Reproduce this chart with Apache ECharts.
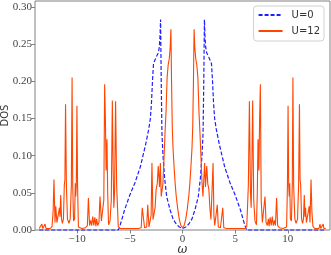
<!DOCTYPE html>
<html><head><meta charset="utf-8">
<script src="https://cdn.jsdelivr.net/npm/echarts@6/dist/echarts.min.js"></script>
<style>html,body{margin:0;padding:0;background:#fff}#c{width:331px;height:255px}</style>
</head><body><div id="c"></div>
<script>
const seriesNames = ['U=0', 'U=12'];
const xTicks = [-10, -5, 0, 5, 10];
const yTicks = [0, 0.05, 0.10, 0.15, 0.20, 0.25, 0.30];

// U=0 : [omega, DOS]
const dosU0 = [
  [-13.6, 0], [-6.1, 0], [-6.0, 0.003], [-5.8, 0.012], [-5.5, 0.027], [-5.0, 0.047], [-4.5, 0.064],
  [-4.0, 0.085], [-3.5, 0.115], [-3.2, 0.136], [-3.05, 0.150], [-2.95, 0.170], [-2.85, 0.200],
  [-2.75, 0.224], [-2.6, 0.229], [-2.45, 0.234], [-2.3, 0.238], [-2.2, 0.246], [-2.13, 0.262],
  [-2.08, 0.283], [-2.02, 0.200], [-1.95, 0.130], [-1.85, 0.100], [-1.7, 0.070], [-1.5, 0.045],
  [-1.2, 0.028], [-0.9, 0.015], [-0.6, 0.008], [-0.3, 0.004],
  [0, 0.002],
  [0.3, 0.004], [0.6, 0.008], [0.9, 0.015], [1.2, 0.028], [1.5, 0.045], [1.7, 0.070], [1.85, 0.100],
  [1.95, 0.130], [2.02, 0.200], [2.08, 0.283], [2.13, 0.262], [2.2, 0.246], [2.3, 0.238],
  [2.45, 0.234], [2.6, 0.229], [2.75, 0.224], [2.85, 0.200], [2.95, 0.170], [3.05, 0.150],
  [3.2, 0.136], [3.5, 0.115], [4.0, 0.085], [4.5, 0.064], [5.0, 0.047], [5.5, 0.027],
  [5.8, 0.012], [6.0, 0.003], [6.1, 0], [13.6, 0]
];

// U=12 : [omega, DOS]
const dosU12 = [
  [-13.60, 0.002], [-13.42, 0.002], [-13.35, 0.008], [-13.25, 0.002], [-13.12, 0.002], [-13.05, 0.008],
  [-12.95, 0.002], [-12.55, 0.002], [-12.38, 0.005], [-12.28, 0.025], [-12.20, 0.068], [-12.10, 0.010],
  [-12.03, 0.032], [-11.92, 0.010], [-11.76, 0.010], [-11.68, 0.030], [-11.62, 0.018], [-11.56, 0.047],
  [-11.48, 0.015], [-11.40, 0.009], [-11.30, 0.015], [-11.22, 0.060], [-11.16, 0.068], [-11.10, 0.169],
  [-11.02, 0.060], [-10.92, 0.015], [-10.78, 0.009], [-10.66, 0.015], [-10.55, 0.060], [-10.48, 0.205],
  [-10.42, 0.060], [-10.34, 0.012], [-10.24, 0.015], [-10.18, 0.063], [-10.13, 0.045], [-10.08, 0.060],
  [-10.02, 0.167], [-9.96, 0.060], [-9.88, 0.004], [-9.55, 0.002], [-9.20, 0.003], [-9.03, 0.006],
  [-8.93, 0.043], [-8.82, 0.006], [-8.72, 0.013], [-8.62, 0.006], [-8.52, 0.018], [-8.42, 0.006],
  [-8.32, 0.017], [-8.22, 0.005], [-8.15, 0.015], [-8.05, 0.006], [-7.93, 0.010], [-7.83, 0.045],
  [-7.70, 0.012], [-7.58, 0.010], [-7.47, 0.040], [-7.39, 0.196], [-7.32, 0.150], [-7.25, 0.080],
  [-7.17, 0.122], [-7.10, 0.050], [-7.02, 0.007], [-6.88, 0.012], [-6.76, 0.040], [-6.66, 0.174],
  [-6.58, 0.080], [-6.52, 0.030], [-6.45, 0.050], [-6.35, 0.173], [-6.25, 0.060], [-6.10, 0.005],
  [-5.90, 0.002], [-5.00, 0.002], [-4.20, 0.002], [-3.92, 0.003], [-3.82, 0.030], [-3.60, 0.003],
  [-3.40, 0.004], [-3.30, 0.034], [-3.18, 0.004], [-3.06, 0.006], [-2.98, 0.020], [-2.90, 0.090],
  [-2.80, 0.014], [-2.70, 0.014], [-2.60, 0.030], [-2.50, 0.055], [-2.40, 0.062], [-2.30, 0.086],
  [-2.18, 0.058], [-2.10, 0.090], [-2.02, 0.045], [-1.94, 0.045], [-1.86, 0.062], [-1.76, 0.095],
  [-1.66, 0.130], [-1.56, 0.160], [-1.46, 0.205], [-1.36, 0.222], [-1.26, 0.230], [-1.17, 0.245],
  [-1.10, 0.270], [-1.04, 0.200], [-0.97, 0.138], [-0.90, 0.110], [-0.80, 0.085], [-0.70, 0.063],
  [-0.60, 0.046], [-0.45, 0.028], [-0.30, 0.014], [-0.15, 0.006],
  [0.00, 0.003],
  [0.15, 0.006], [0.30, 0.014], [0.45, 0.028], [0.60, 0.046], [0.70, 0.063], [0.80, 0.085],
  [0.90, 0.110], [0.97, 0.138], [1.04, 0.200], [1.10, 0.270], [1.17, 0.245], [1.26, 0.230],
  [1.36, 0.222], [1.46, 0.205], [1.56, 0.160], [1.66, 0.130], [1.76, 0.095], [1.86, 0.062],
  [1.94, 0.045], [2.02, 0.045], [2.10, 0.090], [2.18, 0.058], [2.30, 0.086], [2.40, 0.062],
  [2.50, 0.055], [2.60, 0.030], [2.70, 0.014], [2.80, 0.014], [2.90, 0.090], [2.98, 0.020],
  [3.06, 0.006], [3.18, 0.004], [3.30, 0.034], [3.40, 0.004], [3.60, 0.003], [3.82, 0.030],
  [3.92, 0.003], [4.20, 0.002], [5.00, 0.002], [5.90, 0.002], [6.10, 0.005], [6.25, 0.060],
  [6.35, 0.173], [6.45, 0.050], [6.52, 0.030], [6.58, 0.080], [6.66, 0.174], [6.76, 0.040],
  [6.88, 0.012], [7.02, 0.007], [7.10, 0.050], [7.17, 0.122], [7.25, 0.080], [7.32, 0.150],
  [7.39, 0.196], [7.47, 0.040], [7.58, 0.010], [7.70, 0.012], [7.83, 0.045], [7.93, 0.010],
  [8.05, 0.006], [8.15, 0.015], [8.22, 0.005], [8.32, 0.017], [8.42, 0.006], [8.52, 0.018],
  [8.62, 0.006], [8.72, 0.013], [8.82, 0.006], [8.93, 0.043], [9.03, 0.006], [9.20, 0.003],
  [9.55, 0.002], [9.88, 0.004], [9.96, 0.060], [10.02, 0.167], [10.08, 0.060], [10.13, 0.045],
  [10.18, 0.063], [10.24, 0.015], [10.34, 0.012], [10.42, 0.060], [10.48, 0.205], [10.55, 0.060],
  [10.66, 0.015], [10.78, 0.009], [10.92, 0.015], [11.02, 0.060], [11.10, 0.169], [11.16, 0.068],
  [11.22, 0.060], [11.30, 0.015], [11.40, 0.009], [11.48, 0.015], [11.56, 0.047], [11.62, 0.018],
  [11.68, 0.030], [11.76, 0.010], [11.92, 0.010], [12.03, 0.032], [12.10, 0.010], [12.20, 0.068],
  [12.28, 0.025], [12.38, 0.005], [12.55, 0.002], [12.95, 0.002], [13.05, 0.008], [13.12, 0.002],
  [13.25, 0.002], [13.35, 0.008], [13.42, 0.002], [13.60, 0.002]
];

const chart = echarts.init(document.getElementById('c'), null, {renderer: 'canvas'});
const frameColor = '#808080';
const labelColor = '#444';
chart.setOption({
  animation: false,
  grid: {left: 35, right: 1, top: 1, bottom: 25, containLabel: false, outerBoundsMode: 'none',
    show: true, borderColor: frameColor, borderWidth: 1, backgroundColor: 'transparent'},
  legend: {
    orient: 'vertical', right: 7, top: 6, padding: [4, 4, 5, 4], itemGap: 6,
    itemWidth: 24, itemHeight: 10,
    borderColor: '#d0d0d0', borderWidth: 1, borderRadius: 3, backgroundColor: 'rgba(255,255,255,0.85)',
    itemStyle: {opacity: 0},
    textStyle: {fontFamily: 'DejaVu Sans', fontSize: 10, color: '#333', padding: [0, 0, 0, 4]},
    data: seriesNames
  },
  xAxis: {
    type: 'value', min: -14, max: 14,
    axisLine: {show: false, onZero: false},
    splitLine: {show: false},
    axisTick: {show: true, customValues: xTicks, length: 3.5, lineStyle: {color: frameColor}},
    axisLabel: {customValues: xTicks, margin: 4, fontFamily: 'Liberation Serif', fontSize: 11, color: labelColor,
      formatter: v => v < 0 ? '\u2212' + (-v) : String(v)},
    name: 'ω', nameLocation: 'middle', nameGap: 14, nameMoveOverlap: false,
    nameTextStyle: {fontFamily: 'DejaVu Serif', fontStyle: 'italic', fontSize: 12, color: '#333'}
  },
  yAxis: {
    type: 'value', min: 0, max: 0.308,
    axisLine: {show: false, onZero: false},
    splitLine: {show: false},
    axisTick: {show: true, customValues: yTicks, length: 3.5, lineStyle: {color: frameColor}},
    axisLabel: {customValues: yTicks, margin: 3, fontFamily: 'Liberation Serif', fontSize: 11, color: labelColor,
      formatter: v => v.toFixed(2)},
    name: 'DOS', nameLocation: 'middle', nameGap: 25, nameMoveOverlap: false,
    nameTextStyle: {fontFamily: 'DejaVu Sans', fontSize: 10, color: '#333'}
  },
  series: [
    {name: seriesNames[0], type: 'line', data: dosU0, symbol: 'none', showSymbol: false, clip: false,
      lineStyle: {color: '#1f1fff', width: 1.2, type: [4, 2]}, itemStyle: {color: '#1f1fff'}, z: 2},
    {name: seriesNames[1], type: 'line', data: dosU12, symbol: 'none', showSymbol: false, clip: false,
      lineStyle: {color: '#ff4500', width: 1.1}, itemStyle: {color: '#ff4500'}, z: 3}
  ]
});
</script></body></html>
